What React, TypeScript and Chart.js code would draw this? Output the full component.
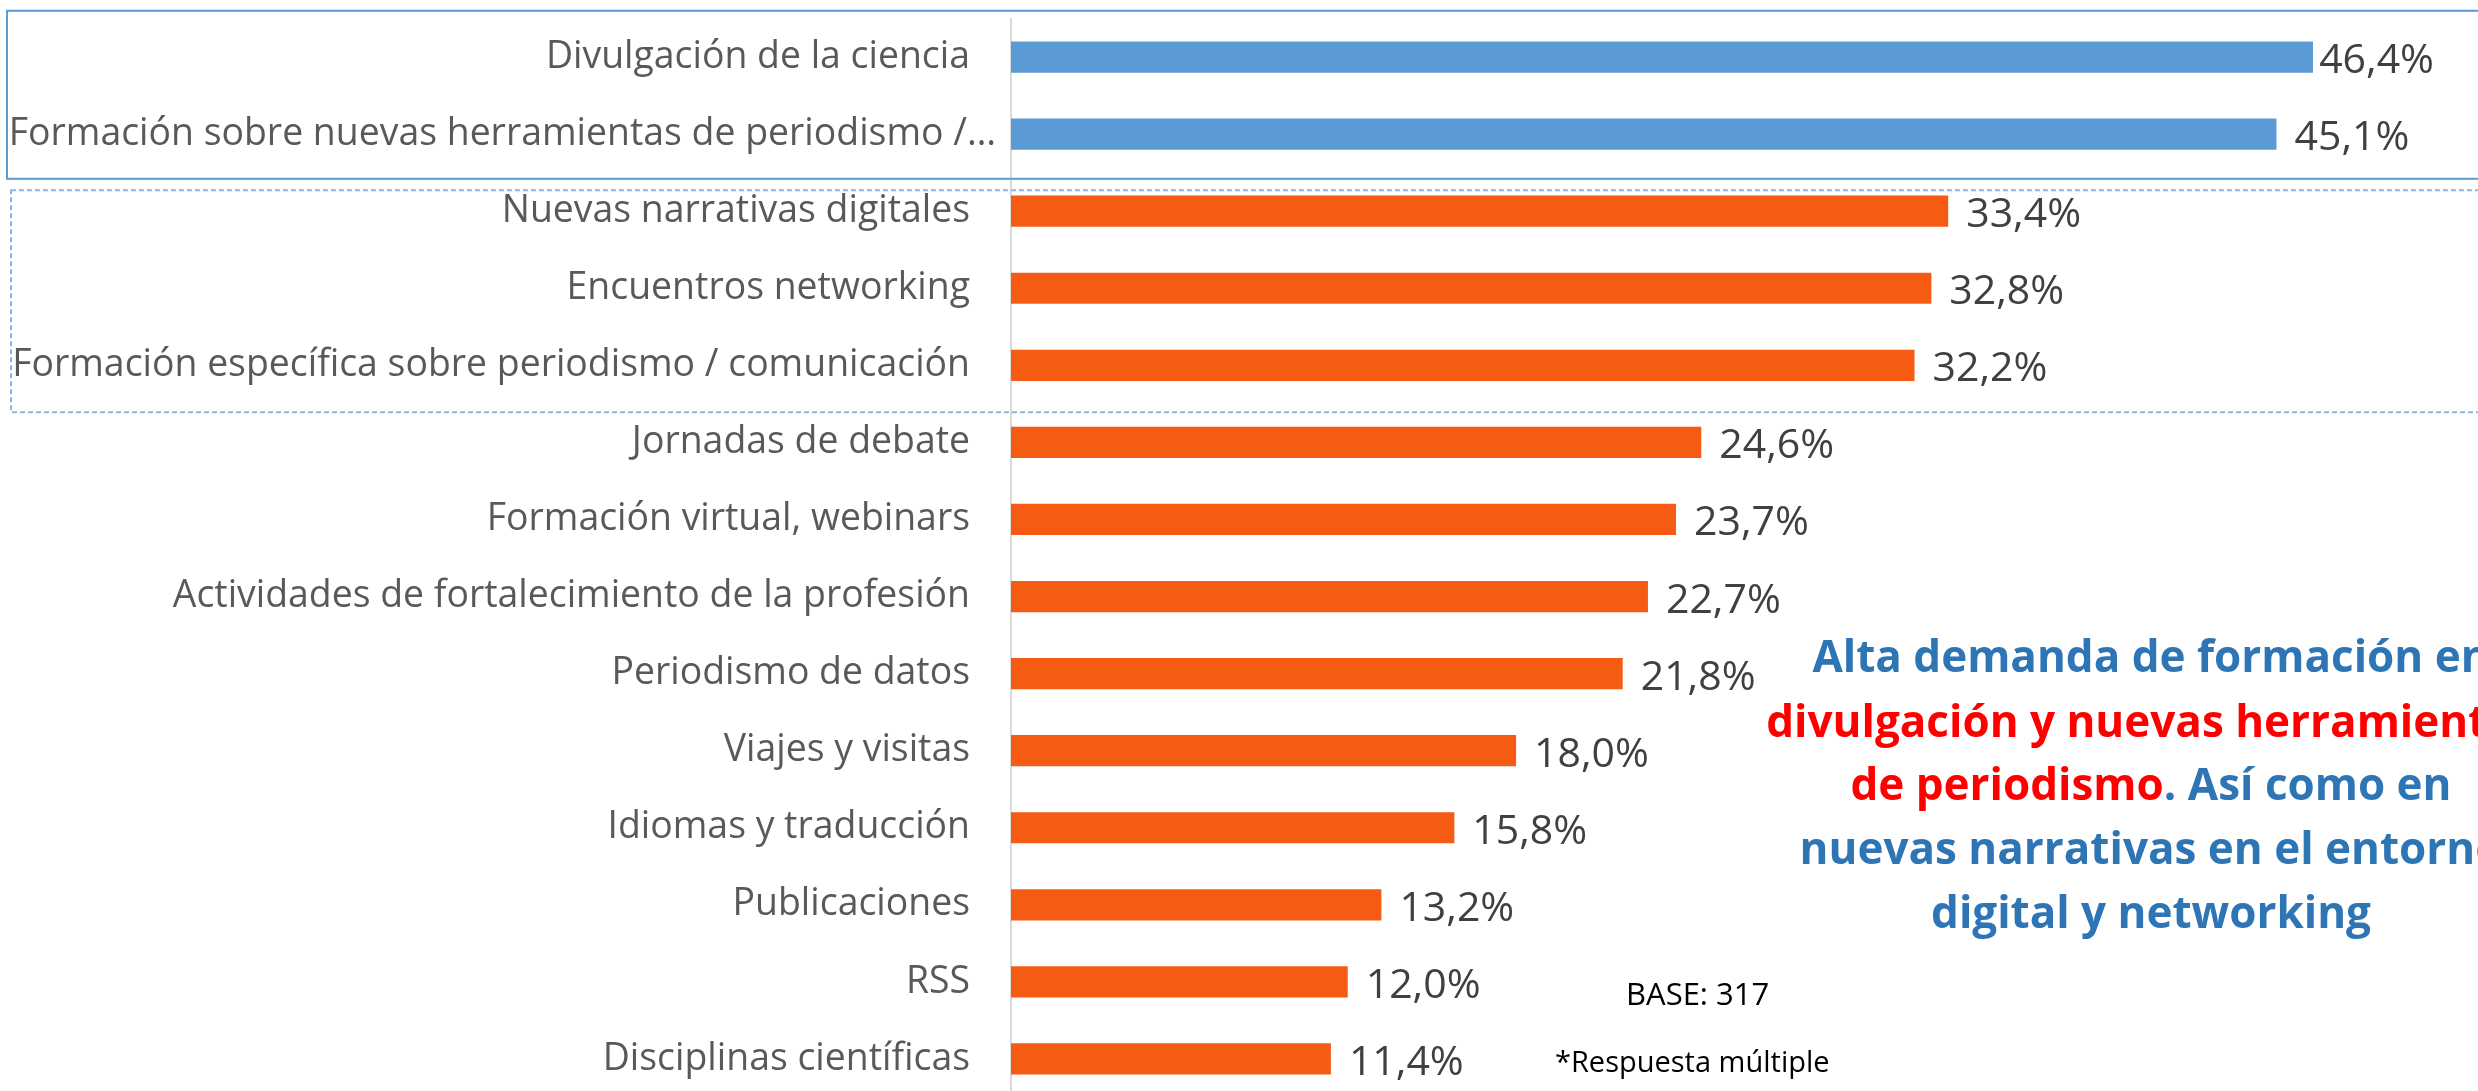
import { useEffect, useRef } from "react";
import { Chart, registerables } from "chart.js";

Chart.register(...registerables);

const categories = [
  "Divulgación de la ciencia",
  "Formación sobre nuevas herramientas de periodismo /…",
  "Nuevas narrativas digitales",
  "Encuentros networking",
  "Formación específica sobre periodismo / comunicación",
  "Jornadas de debate",
  "Formación virtual, webinars",
  "Actividades de fortalecimiento de la profesión",
  "Periodismo de datos",
  "Viajes y visitas",
  "Idiomas y traducción",
  "Publicaciones",
  "RSS",
  "Disciplinas científicas",
];

const values = [46.4, 45.1, 33.4, 32.8, 32.2, 24.6, 23.7, 22.7, 21.8, 18.0, 15.8, 13.2, 12.0, 11.4];

const highlightCount = 2;

type Seg = [string, "blue" | "red"];
const annotationLines: Seg[][] = [
  [["Alta demanda de formación en", "blue"]],
  [["divulgación y nuevas herramientas", "red"]],
  [["de periodismo", "red"], [". Así como en", "blue"]],
  [["nuevas narrativas en el entorno", "blue"]],
  [["digital y networking", "blue"]],
];

const baseNote = "BASE: 317";
const multiNote = "*Respuesta múltiple";

const FONT = "'Open Sans', Lato, sans-serif";
const BLUE_BAR = "#5B9BD5";
const ORANGE_BAR = "#F65B13";
const TEXT_BLUE = "#2E75B6";
const TEXT_RED = "#FF0000";

const W = 2478;
const H = 1110;

const overlayPlugin = {
  id: "overlay",
  afterDatasetsDraw(chart: any) {
    const ctx = chart.ctx;
    const meta = chart.getDatasetMeta(0);
    const limit = chart.chartArea.right + 20;
    ctx.save();
    ctx.font = `41px ${FONT}`;
    ctx.fillStyle = "#404040";
    ctx.textBaseline = "alphabetic";
    ctx.textAlign = "left";
    meta.data.forEach((bar: any, i: number) => {
      const txt = values[i].toFixed(1).replace(".", ",") + "%";
      const w = ctx.measureText(txt).width;
      let x = bar.x + 18;
      if (x + w > limit) x = Math.max(bar.x + 4, limit - w);
      ctx.fillText(txt, x, bar.y + 16);
    });
    ctx.restore();
  },
  afterDraw(chart: any) {
    const ctx = chart.ctx;
    const y = chart.scales.y;
    const left = chart.chartArea.left;
    const band = y.getPixelForValue(1) - y.getPixelForValue(0);
    ctx.save();

    // category labels (truncated labels sit closer to the axis)
    ctx.font = `37.4px ${FONT}`;
    ctx.fillStyle = "#595959";
    ctx.textAlign = "right";
    ctx.textBaseline = "middle";
    categories.forEach((c, i) => {
      const pad = c.endsWith("…") ? 15 : 41;
      ctx.fillText(c, left - pad, y.getPixelForValue(i));
    });

    const t1 = y.getPixelForValue(0) - band * 0.6;
    const b1 = y.getPixelForValue(1) + band * 0.58;
    ctx.strokeStyle = BLUE_BAR;
    ctx.lineWidth = 2;
    ctx.strokeRect(7, t1, W + 50, b1 - t1);
    const t2 = y.getPixelForValue(2) - band * 0.27;
    const b2 = y.getPixelForValue(4) + band * 0.61;
    ctx.strokeStyle = "#8EB4E3";
    ctx.setLineDash([5, 3]);
    ctx.lineWidth = 2;
    ctx.strokeRect(11, t2, W + 50, b2 - t2);
    ctx.setLineDash([]);

    const cx = 2151;
    const baselines = [672, 737, 800, 864, 928];
    ctx.font = `bold 44px ${FONT}`;
    ctx.textBaseline = "alphabetic";
    ctx.textAlign = "left";
    annotationLines.forEach((segs, li) => {
      const total = segs.reduce((s, [t]) => s + ctx.measureText(t).width, 0);
      let x = cx - total / 2;
      segs.forEach(([t, c]) => {
        ctx.fillStyle = c === "blue" ? TEXT_BLUE : TEXT_RED;
        ctx.fillText(t, x, baselines[li]);
        x += ctx.measureText(t).width;
      });
    });

    ctx.fillStyle = "#000000";
    ctx.font = `31px ${FONT}`;
    ctx.fillText(baseNote, 1626, 1005);
    ctx.font = `29px ${FONT}`;
    ctx.fillText(multiNote, 1555, 1072);
    ctx.restore();
  },
};

export default function App() {
  const ref = useRef<HTMLCanvasElement | null>(null);
  useEffect(() => {
    let chart: Chart | null = null;
    let cancelled = false;
    const make = () => {
      if (cancelled || !ref.current) return;
      chart = new Chart(ref.current, {
        type: "bar",
        data: {
          labels: categories,
          datasets: [
            {
              data: values,
              backgroundColor: (c: any) => (c.dataIndex < highlightCount ? BLUE_BAR : ORANGE_BAR),
              barPercentage: 1,
              categoryPercentage: 0.405,
            },
          ],
        },
        options: {
          indexAxis: "y",
          responsive: false,
          animation: false,
          devicePixelRatio: 1,
          layout: { padding: { top: 18.5, bottom: 12.5, left: 0, right: 64 } },
          plugins: { legend: { display: false }, tooltip: { enabled: false } },
          scales: {
            x: { display: false, min: 0, max: 50 },
            y: {
              afterFit: (s: any) => {
                s.width = 1011;
                s.paddingTop = 0;
                s.paddingBottom = 0;
              },
              grid: { display: false, drawTicks: false },
              border: { display: true, color: "#D9D9D9", width: 2 },
              ticks: { display: false, autoSkip: false },
            },
          },
        },
        plugins: [overlayPlugin],
      });
    };
    const fonts: any = (document as any).fonts;
    if (fonts && fonts.load) {
      Promise.all([fonts.load(`36px 'Open Sans'`), fonts.load(`bold 44px 'Open Sans'`)]).then(make, make);
    } else make();
    return () => {
      cancelled = true;
      if (chart) chart.destroy();
    };
  }, []);
  return (
    <div
      style={{
        position: "fixed",
        left: 0,
        top: 0,
        width: W,
        height: 1091,
        overflow: "hidden",
        background: "#ffffff",
      }}
    >
      <canvas ref={ref} width={W} height={H} style={{ display: "block", width: W, height: H }} />
    </div>
  );
}
